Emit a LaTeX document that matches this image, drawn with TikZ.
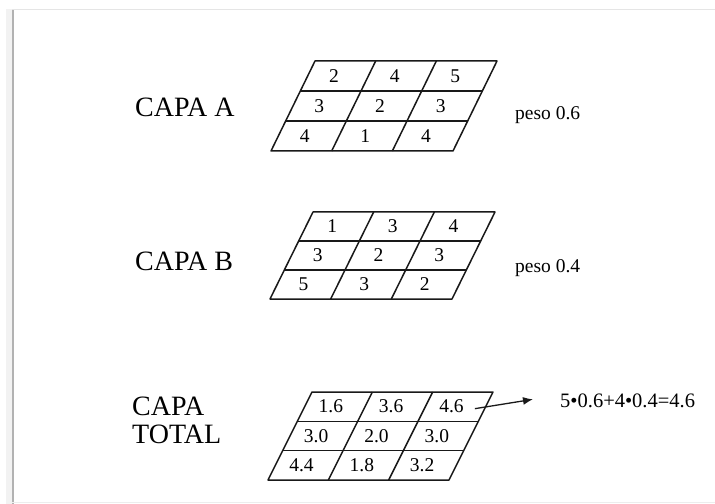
\documentclass[tikz,border=0pt]{standalone}
\usepackage{fontspec}
\setmainfont{Liberation Serif}
\usetikzlibrary{arrows.meta}

% One layer: parallelogram of 3x3 cells with its values.
% #1 name, #2 x of top-left corner, #3 y of top edge, #4 width, #5 height,
% #6 horizontal slant of the sides, #7 the nine values, row by row
\newcommand\layergrid[7]{%
  \draw[gridline] (#2,#3) -- ++(#4,0) -- ++(-#6,#5) -- ++(-#4,0) -- cycle;
  \foreach \i in {1,2}
    \draw[gridline] ({#2-#6*\i/3},{#3+#5*\i/3}) -- ++(#4,0);
  \foreach \j in {1,2}
    \draw[gridline] ({#2+#4*\j/3},#3) -- ++(-#6,#5);
  \foreach \v [count=\k from 0] in {#7} {
    \pgfmathtruncatemacro\row{\k/3}
    \pgfmathtruncatemacro\col{mod(\k,3)}
    \node[cellnum] (#1-\row-\col)
      at ({#2+#4*(\col+0.5)/3-#6*(\row+0.5)/3-4},{#3+#5*(\row+0.5)/3}) {\v};
  }%
}

\begin{document}
\begin{tikzpicture}[x=1bp,y=-1bp,
  gridline/.style={line width=1.5bp, black!90, line join=round},
  layerlabel/.style={anchor=base west, inner sep=0pt, font=\fontsize{28bp}{30bp}\selectfont},
  cellnum/.style={inner sep=0pt, font=\fontsize{19.5bp}{20bp}\selectfont},
  weightlabel/.style={anchor=base west, inner sep=0pt, font=\fontsize{19.5bp}{20bp}\selectfont},
  sumlabel/.style={anchor=base west, inner sep=0pt, font=\fontsize{20.5bp}{22bp}\selectfont},
  pointer/.style={line width=1.3bp, black!90, -{Latex[length=10bp,width=8bp]}},
]
\useasboundingbox (0,0) rectangle (715,504);
\fill[white] (0,0) rectangle (715,504);

% page frame with a soft shadow on the left
\fill[black!5] (6,9) rectangle (12,504);
\draw[black!30, line width=2bp] (12.5,10) -- (12.5,504);
\draw[black!10, line width=1.5bp] (12,9.5) -- (715,9.5);
\draw[black!7, line width=1.5bp] (12,502.5) -- (715,502.5);

% layer A
\node[layerlabel] (labA) at (135,117) {CAPA A};
\layergrid{A}{315}{61}{182}{90}{44}{2,4,5,3,2,3,4,1,4}
\node[weightlabel] (wA) at (515,120) {peso 0.6};

% layer B
\node[layerlabel] (labB) at (135,271) {CAPA B};
\layergrid{B}{313}{212}{182}{87}{43}{1,3,4,3,2,3,5,3,2}
\node[weightlabel] (wB) at (515,273) {peso 0.4};

% combined layer
\node[layerlabel] (labT1) at (132,415) {CAPA};
\node[layerlabel] (labT2) at (132,443) {TOTAL};
\layergrid{C}{312}{392}{181}{88}{44}{1.6,3.6,4.6,3.0,2.0,3.0,4.4,1.8,3.2}
\node[sumlabel] (sum) at (560,407) {5•0.6+4•0.4=4.6};

\draw[pointer] ([xshift=11bp,yshift=-2bp]C-0-2.east) -- ([xshift=-27bp,yshift=1bp]sum.west);
\end{tikzpicture}
\end{document}
